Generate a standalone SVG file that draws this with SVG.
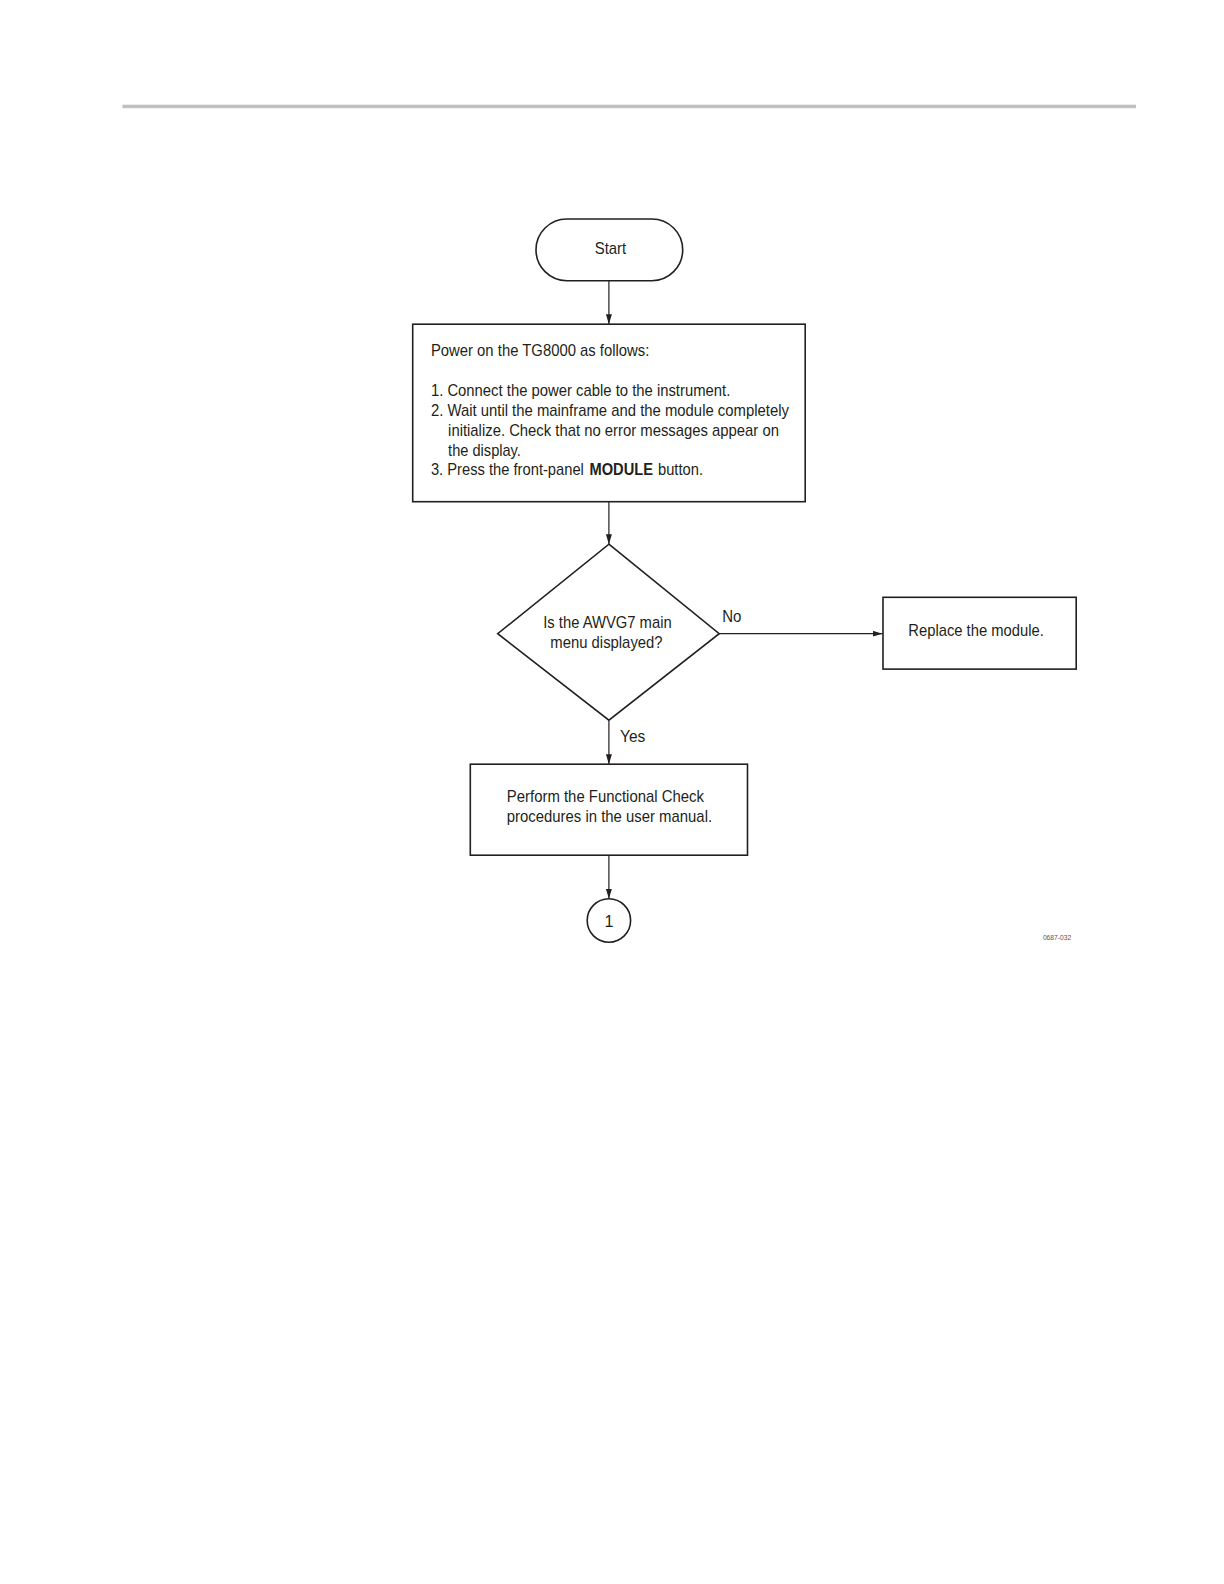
<svg xmlns="http://www.w3.org/2000/svg" width="1224" height="1584" viewBox="0 0 1224 1584">
<style>
.s{fill:#fff;stroke:#231f20;stroke-width:1.6}
.t{font-family:"Liberation Sans",Arial,sans-serif;font-size:16.2px;fill:#231f20}
.c{stroke:#231f20;stroke-width:1.2;fill:none}
</style>
<defs>
<marker id="ah" viewBox="0 0 10 6" refX="10" refY="3" markerWidth="10" markerHeight="6" markerUnits="userSpaceOnUse" orient="auto">
<path d="M0,0 L10,3 L0,6 Z" fill="#231f20"/>
</marker>
</defs>
<rect x="122.4" y="104.7" width="1013.6" height="3.5" fill="#c0c0c0"/>
<g id="connectors">
<line class="c" x1="608.9" y1="280.7" x2="608.9" y2="324.2" marker-end="url(#ah)"/>
<line class="c" x1="608.9" y1="501.7" x2="608.9" y2="544.2" marker-end="url(#ah)"/>
<line class="c" x1="719.2" y1="633.7" x2="882.5" y2="633.7" marker-end="url(#ah)"/>
<line class="c" x1="608.9" y1="720.2" x2="608.9" y2="764.2" marker-end="url(#ah)"/>
<line class="c" x1="608.9" y1="855.2" x2="608.9" y2="898.8" marker-end="url(#ah)"/>
<text class="t" x="722.2" y="622.1" textLength="19.2" lengthAdjust="spacingAndGlyphs">No</text>
<text class="t" x="620" y="742.4" textLength="25.3" lengthAdjust="spacingAndGlyphs">Yes</text>
</g>
<g id="start">
<rect class="s" x="536" y="219" width="146.7" height="61.7" rx="30.85"/>
<text class="t" x="594.8" y="253.9" textLength="31.4" lengthAdjust="spacingAndGlyphs">Start</text>
</g>
<g id="power">
<rect class="s" x="412.7" y="324.2" width="392.5" height="177.5"/>
<text class="t" x="430.9" y="356" textLength="218.5" lengthAdjust="spacingAndGlyphs">Power on the TG8000 as follows:</text>
<text class="t" x="430.9" y="395.5" textLength="299.4" lengthAdjust="spacingAndGlyphs">1. Connect the power cable to the instrument.</text>
<text class="t" x="430.9" y="415.7" textLength="358" lengthAdjust="spacingAndGlyphs">2. Wait until the mainframe and the module completely</text>
<text class="t" x="448.1" y="436" textLength="330.8" lengthAdjust="spacingAndGlyphs">initialize. Check that no error messages appear on</text>
<text class="t" x="448.1" y="456.2" textLength="72.8" lengthAdjust="spacingAndGlyphs">the display.</text>
<text class="t" x="430.9" y="475.4" textLength="153" lengthAdjust="spacingAndGlyphs">3. Press the front-panel</text>
<text class="t" x="589.5" y="475.4" font-weight="bold" textLength="63.5" lengthAdjust="spacingAndGlyphs">MODULE</text>
<text class="t" x="658" y="475.4" textLength="45" lengthAdjust="spacingAndGlyphs">button.</text>
</g>
<g id="decision">
<polygon class="s" points="608.9,544.2 719.2,633.7 608.9,720.2 497.7,633.7"/>
<text class="t" x="543.2" y="628.1" textLength="128.5" lengthAdjust="spacingAndGlyphs">Is the AWVG7 main</text>
<text class="t" x="550.3" y="648.4" textLength="112.3" lengthAdjust="spacingAndGlyphs">menu displayed?</text>
</g>
<g id="replace">
<rect class="s" x="883" y="597.3" width="193.2" height="71.8"/>
<text class="t" x="908.3" y="636.2" textLength="135.5" lengthAdjust="spacingAndGlyphs">Replace the module.</text>
</g>
<g id="perform">
<rect class="s" x="470.3" y="764.2" width="277.2" height="91"/>
<text class="t" x="506.8" y="802.1" textLength="197.2" lengthAdjust="spacingAndGlyphs">Perform the Functional Check</text>
<text class="t" x="506.8" y="822.3" textLength="205.3" lengthAdjust="spacingAndGlyphs">procedures in the user manual.</text>
</g>
<g id="connector1">
<circle class="s" cx="608.9" cy="920.5" r="21.7"/>
<text class="t" x="608.9" y="926.5" text-anchor="middle">1</text>
</g>
<text x="1042.9" y="939.7" font-family="Liberation Sans,Arial,sans-serif" font-size="7.6" fill="#555" textLength="28.3" lengthAdjust="spacingAndGlyphs">0687-032</text>
</svg>
